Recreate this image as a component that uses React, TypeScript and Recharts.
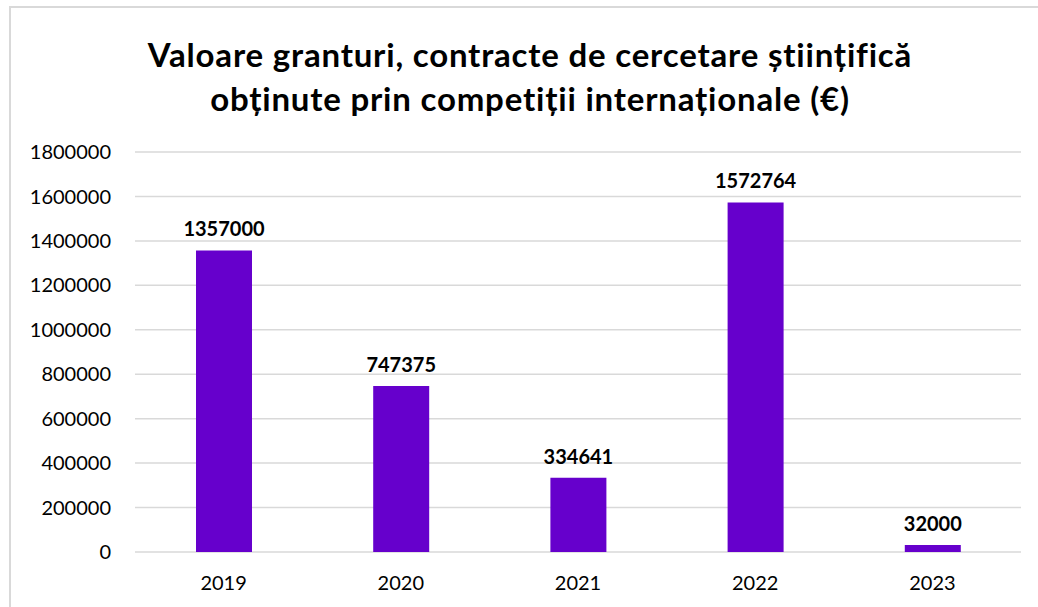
import React from "react";
import { BarChart, Bar, XAxis, YAxis, CartesianGrid, LabelList } from "recharts";

const years = ["2019", "2020", "2021", "2022", "2023"];
const values = [1357000, 747375, 334641, 1572764, 32000];
const yTicks = [0, 200000, 400000, 600000, 800000, 1000000, 1200000, 1400000, 1600000, 1800000];
const titleLines = [
  "Valoare granturi, contracte de cercetare științifică",
  "obținute prin competiții internaționale (€)",
];

const data = years.map((y, i) => ({ year: y, value: values[i] }));

const FONT = "Lato, 'Open Sans', sans-serif";

export default function App() {
  return (
    <div style={{ position: "absolute", left: 0, top: 0, width: 1038, height: 607, overflow: "hidden", background: "#fff", fontFamily: FONT }}>
      <div style={{ position: "absolute", left: 9, top: 6, width: 1040, height: 620, border: "2px solid #D9D9D9", boxSizing: "border-box" }} />
      <div style={{ position: "absolute", left: 30, top: 32, width: 1000, textAlign: "center", fontWeight: 700, fontSize: 33, letterSpacing: 0.8, lineHeight: "44px", color: "#000" }}>
        {titleLines.map((t) => (
          <div key={t}>{t}</div>
        ))}
      </div>
      <div style={{ position: "absolute", left: 0, top: 0 }}>
        <BarChart width={1038} height={607} data={data} margin={{ top: 152, right: 17, bottom: 25, left: 0 }}>
          <CartesianGrid horizontal vertical={false} stroke="#D9D9D9" strokeWidth={1.5} />
          <XAxis dataKey="year" axisLine={false} tickLine={false} tickSize={0} tickMargin={24} height={30}
            tick={{ fill: "#000", fontSize: 20, fontFamily: FONT }} />
          <YAxis domain={[0, 1800000]} ticks={yTicks} axisLine={false} tickLine={false} tickSize={0} tickMargin={24} width={135}
            interval={0} tick={{ fill: "#000", fontSize: 20, fontFamily: FONT }} />
          <Bar dataKey="value" fill="#6600CC" barSize={56} isAnimationActive={false}>
            <LabelList dataKey="value" position="top" offset={14} fill="#000" fontSize={20} fontWeight={700} fontFamily={FONT} />
          </Bar>
        </BarChart>
      </div>
    </div>
  );
}
